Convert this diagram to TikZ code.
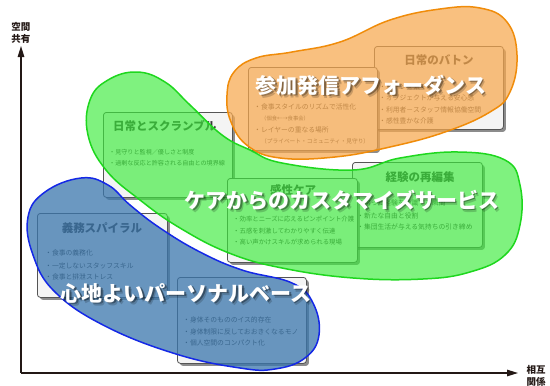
\documentclass[tikz,border=0pt]{standalone}
\usepackage{fontspec}
\setmainfont{Noto Sans CJK JP}
\usetikzlibrary{shadows,arrows.meta}
\definecolor{boxline}{RGB}{85,85,85}
\definecolor{boxfill}{RGB}{244,244,244}
\definecolor{txt}{RGB}{55,55,55}
\definecolor{ttl}{RGB}{55,55,55}
\definecolor{orF}{RGB}{247,168,78}
\definecolor{orL}{RGB}{240,140,10}
\definecolor{grF}{RGB}{60,235,60}
\definecolor{grL}{RGB}{30,215,30}
\definecolor{blF}{RGB}{58,118,172}
\definecolor{blL}{RGB}{20,40,230}
\definecolor{axis}{RGB}{35,24,21}
\tikzset{
  box/.style={draw=boxline, line width=0.8pt, rounded corners=3pt, fill=boxfill,
    drop shadow={shadow xshift=2.5pt, shadow yshift=-2.5pt, opacity=0.6, fill=black!75},
    anchor=north west, inner sep=0pt},
  ttlA/.style={font=\fontsize{11.5}{12}\selectfont\bfseries, text=ttl, inner sep=0pt},
  itm/.style={font=\fontsize{6.8}{7}\selectfont, text=txt, anchor=west, inner sep=0pt},
  blobO/.style={draw=orL, line width=1.5pt, fill=orF, fill opacity=0.72},
  blobG/.style={draw=grL, line width=1.5pt, fill=grF, fill opacity=0.66},
  blobB/.style={draw=blL, line width=1.5pt, fill=blF, fill opacity=0.75},
  big/.style={font=\fontsize{21}{21}\selectfont\bfseries, text=white, inner sep=0pt},
  bigsh/.style={font=\fontsize{21}{21}\selectfont\bfseries, text=black, text opacity=0.35, inner sep=0pt},
  bigsh2/.style={font=\fontsize{21}{21}\selectfont\bfseries, text=black, text opacity=0.18, inner sep=0pt},
  axlbl/.style={font=\fontsize{9.5}{12}\selectfont\bfseries, text=axis, align=center, inner sep=0pt},
}
\begin{document}
\begin{tikzpicture}[x=1pt,y=-1pt]
\useasboundingbox (0,0) rectangle (550,386);
% axes
\coordinate (o) at (21,373);
\coordinate (ytip) at (21,46);
\coordinate (xtip) at (518,373);
\draw[axis, line width=1.3pt, -{Triangle[length=11pt,width=6.5pt]}] (o) -- (ytip);
\draw[axis, line width=1.3pt, -{Triangle[length=11pt,width=6.5pt]}] (o) -- (xtip);
\node[axlbl] (ylab) at (21,33) {空間\\共有};
\node[axlbl] (xlab) at (536,376) {相互\\関係};

% boxes
\node[box, minimum width=129pt, minimum height=85pt] (b1) at (103,112) {};
\node[ttlA, anchor=west] (t1) at (113,126) {日常とスクランブル};
\node[itm, font=\fontsize{6.1}{7}\selectfont] (i11) at (109,152) {・見守りと監視／優しさと制度};
\node[itm, font=\fontsize{6.1}{7}\selectfont] (i12) at (109,163) {・過剰な反応と許容される自由との境界線};

\node[box, minimum width=129pt, minimum height=83pt] (b3) at (374,46) {};
\node[ttlA] (t3) at (439,60) {日常のバトン};
\node[itm] (i31) at (379,87) {・バトンを繋ぐ場};
\node[itm] (i32) at (379,98) {・オブジェクトが与える安心感};
\node[itm] (i33) at (379,110) {・利用者－スタッフ情報協働空間};
\node[itm] (i34) at (379,121) {・感性豊かな介護};

\node[box, minimum width=129pt, minimum height=83pt] (b2) at (248,67) {};
\node[itm] (i21) at (254,107) {・食事スタイルのリズムで活性化};
\node[itm, font=\fontsize{5.3}{6}\selectfont] (i22) at (261,118) {（個食←→食事会）};
\node[itm] (i23) at (254,130) {・レイヤーの重なる場所};
\node[itm, font=\fontsize{5.7}{6}\selectfont] (i24) at (261,141) {（プライベート・コミュニティ・見守り）};

\node[box, minimum width=130pt, minimum height=85pt] (b5) at (352,162) {};
\node[ttlA] (t5) at (420,177) {経験の再編集};
\node[itm] (i51) at (357,203) {・培った経験を意識する瞬間};
\node[itm] (i52) at (357,216) {・新たな自由と役割};
\node[itm] (i53) at (357,227) {・集団生活が与える気持ちの引き締め};

\node[box, minimum width=130pt, minimum height=84pt] (b4) at (227,178) {};
\node[ttlA] (t4) at (293,190) {感性ケア};
\node[itm, font=\fontsize{6.4}{7}\selectfont] (i41) at (233,219) {・効率とニーズに応えるピンポイント介護};
\node[itm, font=\fontsize{6.4}{7}\selectfont] (i42) at (233,231) {・五感を刺激してわかりやすく伝達};
\node[itm, font=\fontsize{6.4}{7}\selectfont] (i43) at (233,242) {・高い声かけスキルが求められる現場};

\node[box, minimum width=130pt, minimum height=84pt] (b6) at (37,213) {};
\node[ttlA] (t6) at (102,228) {義務スパイラル};
\node[itm] (i61) at (45,253) {・食事の義務化};
\node[itm] (i62) at (45,266) {・一定しないスタッフスキル};
\node[itm] (i63) at (45,277) {・食事と排泄ストレス};

\node[box, minimum width=129pt, minimum height=86pt] (b7) at (177,277) {};
\node[itm] (i71) at (183,320) {・身体そのもののイス的存在};
\node[itm] (i72) at (183,332) {・身体制限に反しておおきくなるモノ};
\node[itm] (i73) at (183,343) {・個人空間のコンパクト化};

% blobs
\draw[blobO] plot[smooth cycle, tension=0.7] coordinates {
 (227,95) (234,72) (256,58) (292,52) (340,42) (390,20) (440,9) (480,8)
 (507,22) (517,55) (510,92) (490,112) (445,132) (390,147) (335,157)
 (280,158) (248,146) (231,122)};
\draw[blobG] plot[smooth cycle, tension=0.7] coordinates {
 (137,72) (165,82) (190,105) (222,135) (250,150) (282,163) (353,170)
 (400,158) (458,152) (505,160) (520,185) (520,225) (505,255) (470,272)
 (423,279) (353,278) (282,268) (229,253) (180,228) (140,200) (106,170)
 (88,135) (90,100) (108,80)};
\draw[blobB] plot[smooth cycle, tension=0.7] coordinates {
 (81,178) (108,185) (130,205) (160,228) (200,252) (242,270) (292,283)
 (313,303) (319,335) (305,358) (275,369) (240,368) (176,354) (105,326)
 (55,292) (33,255) (28,217) (45,192)};

% big labels
\node[bigsh2] (L1s2) at (373.5,88) {参加発信アフォーダンス};
\node[bigsh] (L1s) at (372.5,86.5) {参加発信アフォーダンス};
\node[big] (L1) at (371,85) {参加発信アフォーダンス};
\node[bigsh2] (L2s2) at (344.5,203) {ケアからのカスタマイズサービス};
\node[bigsh] (L2s) at (343.5,201.5) {ケアからのカスタマイズサービス};
\node[big] (L2) at (342,200) {ケアからのカスタマイズサービス};
\node[bigsh2] (L3s2) at (188.5,296) {心地よいパーソナルベース};
\node[bigsh] (L3s) at (187.5,294.5) {心地よいパーソナルベース};
\node[big] (L3) at (186,293) {心地よいパーソナルベース};
\end{tikzpicture}
\end{document}
